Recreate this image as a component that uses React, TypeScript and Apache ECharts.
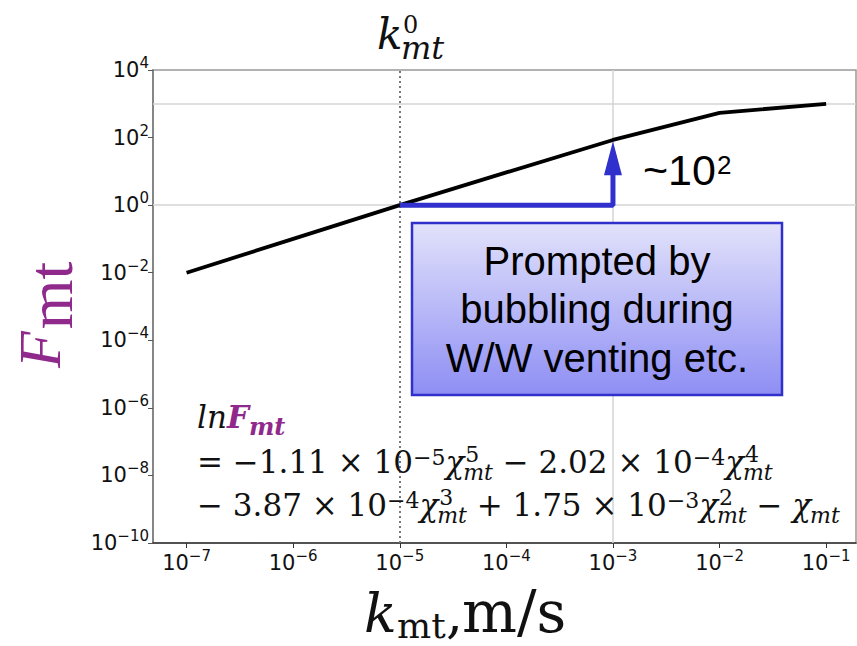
import React, { useEffect, useRef } from "react";
import * as echarts from "echarts";

// ---- data ----
const kValues = [1e-7, 1e-6, 1e-5, 1e-4, 1e-3, 1e-2, 1e-1]; // m/s
const fValues = [0.01, 0.1, 1, 9.3, 85, 540, 1000]; // F_mt
const xTickExps = [-7, -6, -5, -4, -3, -2, -1];
const yTickExps = [-10, -8, -6, -4, -2, 0, 2, 4];
const xRangeK = [Math.pow(10, -7.315), Math.pow(10, -0.72)];
const yRangeF = [1e-10, 1e4];
const refLinesK = [1e-5, 1e-3];
const refLinesF = [1, 1000];
const arrowK = [1e-5, 1e-3, 1e-3];
const arrowF = [1, 1, 9];
const arrowTip = [1e-3, 78];

const lg = (v: number) => Math.log10(v);
const supStr = (e: number) => (e < 0 ? "\u2212" + Math.abs(e) : String(e));

const SERIF = '"Liberation Serif", "Times New Roman", serif';
const DSERIF = '"DejaVu Serif", serif';
const SANS = '"Liberation Sans", Arial, sans-serif';
const PURPLE = "#8f2a8c";
const BLUE = "#3030cc";

const ctx = typeof document !== "undefined" ? document.createElement("canvas").getContext("2d") : null;
function measure(text: string, size: number, family: string, italic?: boolean, bold?: boolean) {
  if (!ctx) return text.length * size * 0.5;
  ctx.font = `${italic ? "italic " : ""}${bold ? "bold " : ""}${size}px ${family}`;
  return ctx.measureText(text).width;
}

type TOpt = { italic?: boolean; bold?: boolean; color?: string; family?: string; align?: string };
function txt(text: string, x: number, baseline: number, size: number, o: TOpt = {}) {
  return {
    type: "text",
    z: 100,
    silent: true,
    style: {
      text,
      x,
      y: baseline - 0.34 * size,
      fontSize: size,
      fontFamily: o.family || SERIF,
      fontStyle: o.italic ? "italic" : "normal",
      fontWeight: o.bold ? "bold" : "normal",
      fill: o.color || "#111",
      align: o.align || "left",
      verticalAlign: "middle",
    },
  };
}

type Tok = { t: string; k: "n" | "sup" | "chi"; sup?: string; sub?: string };
function layoutLine(tokens: Tok[], x0: number, baseline: number, size: number, fam: string, out: any[]) {
  let x = x0;
  const ss = Math.round(size * 0.7);
  for (const tk of tokens) {
    if (tk.k === "n") {
      out.push(txt(tk.t, x, baseline, size, { family: fam }));
      x += measure(tk.t, size, fam);
    } else if (tk.k === "sup") {
      out.push(txt(tk.t, x, baseline - 8, ss, { family: fam }));
      x += measure(tk.t, ss, fam);
    } else {
      out.push(txt("\u03c7", x, baseline, size, { italic: true, family: fam }));
      x += measure("\u03c7", size, fam, true);
      let w = 0;
      if (tk.sup) {
        out.push(txt(tk.sup, x + 1, baseline - 11, ss, { family: fam }));
        w = Math.max(w, measure(tk.sup, ss, fam) + 1);
      }
      if (tk.sub) {
        out.push(txt(tk.sub, x - 1, baseline + 7, ss, { italic: true, family: fam }));
        w = Math.max(w, measure(tk.sub, ss, fam, true) - 1);
      }
      x += w;
    }
  }
  return x;
}

export default function App() {
  const ref = useRef<HTMLDivElement>(null);
  useEffect(() => {
    const chart = echarts.init(ref.current!, undefined, { renderer: "svg" });

    const curve = kValues.map((k, i) => [lg(k), lg(fValues[i])]);
    const arrowPts = arrowK.map((k, i) => [lg(k), lg(arrowF[i])]);

    const labelRich = {
      base: { fontSize: 21, fontFamily: "DejaVu Sans", color: "#111", lineHeight: 27 },
      sp: { fontSize: 15, fontFamily: "DejaVu Sans", color: "#111", padding: [0, 0, 14, 0] },
    };
    const fmt = (v: number) => `{base|10}{sp|${supStr(Math.round(v))}}`;

    const g: any[] = [];
    // title k^0_mt
    g.push(txt("k", 377, 49, 42, { italic: true, family: DSERIF }));
    g.push(txt("0", 403, 33, 24, { family: DSERIF }));
    g.push(txt("mt", 401, 59, 32, { italic: true, family: DSERIF }));

    // x axis title
    g.push(txt("k", 364, 632, 54, { italic: true, family: DSERIF }));
    g.push(txt("mt", 397, 638, 36, { family: DSERIF }));
    g.push(txt(",", 446, 632, 54, { family: DSERIF }));
    g.push(txt("m/s", 462, 632, 58, { family: DSERIF }));

    // y axis title (rotated)
    const fW = measure("F", 60, SERIF, true);
    g.push({
      type: "group",
      x: 60,
      y: 368,
      rotation: Math.PI / 2,
      children: [
        txt("F", 0, 0, 60, { italic: true, color: PURPLE }),
        txt("mt", fW + 2, 12, 64, { color: PURPLE }),
      ],
    });

    // box
    g.push({
      type: "rect",
      z: 90,
      silent: true,
      shape: { x: 412, y: 223, width: 370, height: 172 },
      style: {
        fill: new echarts.graphic.LinearGradient(0, 0, 0, 1, [
          { offset: 0, color: "#e2e2fb" },
          { offset: 1, color: "#8e8ef4" },
        ]),
        stroke: BLUE,
        lineWidth: 2.5,
      },
    });
    const boxLines = ["Prompted by", "bubbling during", "W/W venting etc."];
    const boxBase = [275, 323, 372];
    boxLines.forEach((t, i) => g.push(txt(t, 597, boxBase[i], 40, { family: SANS, align: "center", color: "#000" })));

    // ~10^2
    const tW = measure("~10", 43, SANS);
    g.push(txt("~10", 643, 185, 43, { family: SANS, color: "#000" }));
    g.push(txt("2", 643 + tW + 1, 174, 26, { family: SANS, color: "#000" }));

    // formula
    const FS = 31;
    g.push(txt("ln", 197, 428, FS, { italic: true, family: DSERIF }));
    const lnW = measure("ln", FS, DSERIF, true);
    g.push(txt("F", 197 + lnW, 428, FS, { italic: true, bold: true, color: PURPLE, family: DSERIF }));
    const FW = measure("F", FS, DSERIF, true, true);
    g.push(txt("mt", 197 + lnW + FW, 435, 24, { italic: true, bold: true, color: PURPLE, family: DSERIF }));

    layoutLine(
      [
        { t: "= \u22121.11 \u00d7 10", k: "n" },
        { t: "\u22125", k: "sup" },
        { t: "", k: "chi", sup: "5", sub: "mt" },
        { t: " \u2212 2.02 \u00d7 10", k: "n" },
        { t: "\u22124", k: "sup" },
        { t: "", k: "chi", sup: "4", sub: "mt" },
      ],
      197,
      473,
      FS,
      DSERIF,
      g
    );
    layoutLine(
      [
        { t: "\u2212 3.87 \u00d7 10", k: "n" },
        { t: "\u22124", k: "sup" },
        { t: "", k: "chi", sup: "3", sub: "mt" },
        { t: " + 1.75 \u00d7 10", k: "n" },
        { t: "\u22123", k: "sup" },
        { t: "", k: "chi", sup: "2", sub: "mt" },
        { t: " \u2212 ", k: "n" },
        { t: "", k: "chi", sub: "mt" },
      ],
      197,
      516,
      FS,
      DSERIF,
      g
    );

    const option: any = {
      animation: false,
      backgroundColor: "#fff",
      grid: { left: 153, right: 1, top: 70, bottom: 103, show: true, borderColor: "#999", borderWidth: 1.5 },
      xAxis: {
        type: "value",
        min: lg(xRangeK[0]),
        max: lg(xRangeK[1]),
        axisLine: { show: true, onZero: false, lineStyle: { color: "#333", width: 1.5 } },
        axisTick: { show: true, customValues: xTickExps, length: 5, lineStyle: { color: "#333" } },
        axisLabel: {
          customValues: xTickExps,
          margin: 5,
          formatter: fmt,
          rich: labelRich,
          fontSize: 21,
          fontFamily: "DejaVu Sans",
          color: "#111",
        },
        splitLine: { show: false },
      },
      yAxis: {
        type: "value",
        min: lg(yRangeF[0]),
        max: lg(yRangeF[1]),
        interval: 2,
        axisLine: { show: true, onZero: false, lineStyle: { color: "#777", width: 1.5 } },
        axisTick: { show: true, length: 5, lineStyle: { color: "#555" } },
        axisLabel: {
          margin: 4,
          formatter: fmt,
          rich: labelRich,
          fontSize: 21,
          fontFamily: "DejaVu Sans",
          color: "#111",
        },
        splitLine: { show: false },
      },
      series: [
        {
          type: "line",
          data: [],
          z: 1,
          markLine: {
            z: 1,
            silent: true,
            symbol: ["none", "none"],
            label: { show: false },
            data: [
              { xAxis: lg(refLinesK[0]), lineStyle: { type: [2, 3], color: "#777", width: 2 } },
              { xAxis: lg(refLinesK[1]), lineStyle: { type: "solid", color: "#d4d4d4", width: 1.5 } },
              { yAxis: lg(refLinesF[0]), lineStyle: { type: "solid", color: "#d4d4d4", width: 1.5 } },
              { yAxis: lg(refLinesF[1]), lineStyle: { type: "solid", color: "#d4d4d4", width: 1.5 } },
            ],
          },
        },
        {
          type: "line",
          data: curve,
          symbol: "none",
          z: 3,
          lineStyle: { color: "#000", width: 3.8 },
        },
        {
          type: "line",
          data: arrowPts,
          symbol: "none",
          z: 4,
          lineStyle: { color: BLUE, width: 5, opacity: 1 },
        },
        {
          type: "scatter",
          data: [[lg(arrowTip[0]), lg(arrowTip[1])]],
          symbol: "triangle",
          symbolSize: [18, 34],
          symbolOffset: [0, "50%"],
          z: 5,
          itemStyle: { color: BLUE, opacity: 1 },
        },
      ],
      graphic: { elements: g },
    };
    chart.setOption(option);
    return () => chart.dispose();
  }, []);
  return (
    <div
      ref={ref}
      style={{ position: "fixed", left: 0, top: 0, width: 857, height: 646, background: "#fff" }}
    />
  );
}
